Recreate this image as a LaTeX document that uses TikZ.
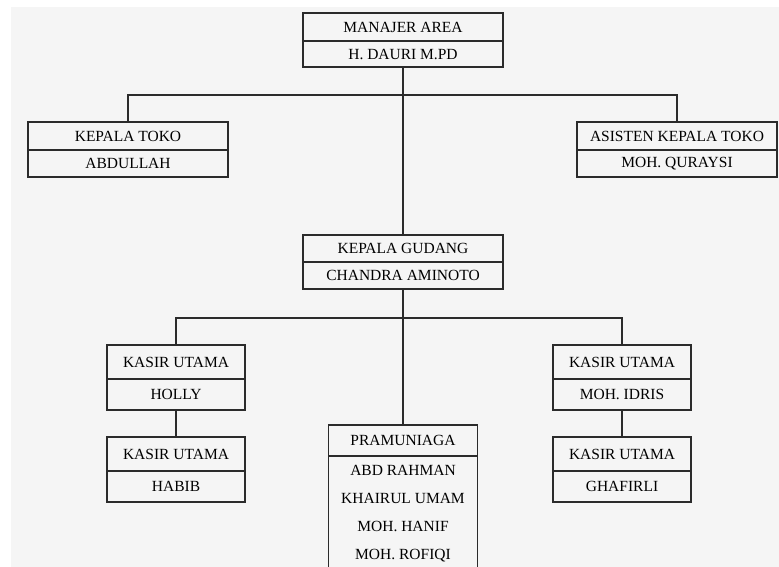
\documentclass[tikz,border=0pt]{standalone}
\usepackage{fontspec}
\setmainfont{Liberation Serif}
\usetikzlibrary{positioning}
\definecolor{pagegray}{HTML}{F5F5F5}
\definecolor{linegray}{HTML}{2B2B2B}

\begin{document}
\begin{tikzpicture}[
  x=1pt, y=-1pt,
  node distance=0pt,
  post/.style={rectangle, draw=linegray, line width=1.3pt, outer sep=0pt,
               minimum width=200pt, minimum height=28pt, inner sep=0pt,
               font=\fontsize{15.5}{18}\selectfont},
  postname/.style={post, minimum height=27pt},
  kasir/.style={post, minimum width=138pt, minimum height=34pt},
  kasirname/.style={kasir, minimum height=31pt},
  link/.style={draw=linegray, line width=1.2pt}
]
\useasboundingbox (0,0) rectangle (779,567);
\clip (0,0) rectangle (779,567);
\fill[pagegray] (11,7) rectangle (779,567);

% top
\node[post] (mgr) at (403,27) {MANAJER AREA};
\node[post, minimum height=26pt, below=of mgr] (mgrname) {H. DAURI M.PD};

\node[post] (toko) at (128,136) {KEPALA TOKO};
\node[postname, below=of toko] (tokoname) {ABDULLAH};

\node[post] (asisten) at (677,136) {ASISTEN KEPALA TOKO};
\node[postname, below=of asisten] (asistenname) {MOH. QURAYSI};

% gudang
\node[post, minimum height=27pt] (gudang) at (403,248.5) {KEPALA GUDANG};
\node[postname, below=of gudang] (gudangname) {CHANDRA AMINOTO};

% kasir
\node[kasir] (kasirA) at (176,362) {KASIR UTAMA};
\node[kasirname, below=of kasirA] (kasirAname) {HOLLY};
\node[kasir] (kasirB) at (176,454) {KASIR UTAMA};
\node[kasirname, below=of kasirB] (kasirBname) {HABIB};

\node[kasir] (kasirC) at (622,362) {KASIR UTAMA};
\node[kasirname, below=of kasirC] (kasirCname) {MOH. IDRIS};
\node[kasir] (kasirD) at (622,454) {KASIR UTAMA};
\node[kasirname, below=of kasirD] (kasirDname) {GHAFIRLI};

% pramuniaga
\node[post, minimum width=149pt, minimum height=31pt] (pram) at (403,440.5) {PRAMUNIAGA};
\node[post, minimum width=149pt, below=of pram, align=center, inner ysep=9.5pt,
      font=\fontsize{15.5}{28}\selectfont] (pramname)
  {ABD RAHMAN\\KHAIRUL UMAM\\MOH. HANIF\\MOH. ROFIQI};

% lines
\coordinate (bustop) at (403,95);
\coordinate (busmid) at (403,318);
\draw[link] (toko.north) |- (bustop) -| (asisten.north);
\draw[link] (mgrname.south) -- (gudang.north);
\draw[link] (kasirA.north) |- (busmid) -| (kasirC.north);
\draw[link] (gudangname.south) -- (pram.north);
\draw[link] (kasirAname.south) -- (kasirB.north);
\draw[link] (kasirCname.south) -- (kasirD.north);
\end{tikzpicture}
\end{document}
